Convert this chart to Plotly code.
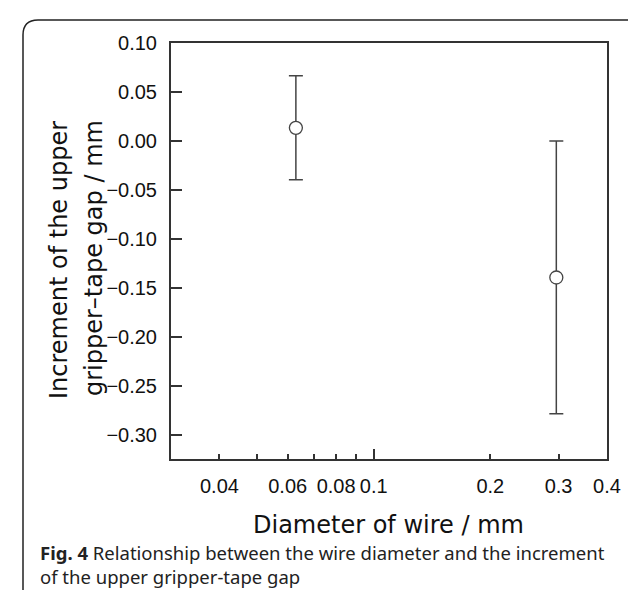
import math
import plotly.graph_objects as go

# ---- data ----
wire_diameter = [0.063, 0.296]          # mm
gap_increment = [0.0135, -0.139]        # mm
gap_error = [0.053, 0.139]              # mm (symmetric)

x_tick_vals = [0.04, 0.05, 0.06, 0.07, 0.08, 0.09, 0.1, 0.2, 0.3, 0.4]
x_tick_text = ["0.04", "", "0.06", "", "0.08", "", "0.1", "0.2", "0.3", "0.4"]
y_tick_vals = [0.10, 0.05, 0.00, -0.05, -0.10, -0.15, -0.20, -0.25, -0.30]

x_title = "Diameter of wire / mm"
y_title_lines = ["Increment of the upper", "gripper\u2013tape gap / mm"]
caption_bold = "Fig. 4"
caption_rest = " Relationship between the wire diameter and the increment<br>of the upper gripper-tape gap"

# ---- layout geometry (pixels) ----
W, H = 636, 590
L, R, T, B = 163, 599, 35, 451
pw, ph = R - L, B - T


def px(X):
    return (X - L) / pw


def py(Y):
    return (B - Y) / ph


AX = "#333333"
MK = "#444444"

fig = go.Figure()
fig.add_trace(go.Scatter(
    x=wire_diameter, y=gap_increment, mode="markers",
    marker=dict(symbol="circle", size=13, color="white",
                line=dict(color=MK, width=1.3)),
    error_y=dict(type="data", array=gap_error, visible=True,
                 color=MK, thickness=1.5, width=7),
    showlegend=False, hoverinfo="skip",
))
# invisible helper trace to carry the overlay axis (long tick at 0.1)
fig.add_trace(go.Scatter(
    x=wire_diameter, y=gap_increment, mode="markers", xaxis="x2",
    marker=dict(opacity=0), showlegend=False, hoverinfo="skip",
))

xr = [math.log10(0.03), math.log10(0.4)]
fig.update_layout(
    width=W, height=H,
    margin=dict(l=L, r=W - R, t=T, b=H - B, pad=0),
    paper_bgcolor="white", plot_bgcolor="white",
    xaxis=dict(
        type="log", range=xr, tickmode="array",
        tickvals=x_tick_vals, ticktext=x_tick_text,
        ticks="inside", ticklen=5, tickwidth=1.5, tickcolor=AX,
        showline=True, linecolor=AX, linewidth=2, mirror=True,
        showgrid=False, zeroline=False,
        tickfont=dict(family="Liberation Sans, Arial", size=20, color="#111"),
        ticklabelstandoff=8,
    ),
    xaxis2=dict(
        type="log", range=xr, overlaying="x", side="bottom",
        tickmode="array", tickvals=[0.1], ticktext=[""],
        ticks="inside", ticklen=10, tickwidth=1.5, tickcolor=AX,
        showline=False, showgrid=False, zeroline=False,
    ),
    yaxis=dict(
        range=[-0.324, 0.10], tickmode="array", tickvals=y_tick_vals,
        tickformat=".2f",
        ticks="inside", ticklen=11, tickwidth=1.5, tickcolor=AX,
        showline=True, linecolor=AX, linewidth=2, mirror=True,
        showgrid=False, zeroline=False,
        tickfont=dict(family="Liberation Sans, Arial", size=20, color="#111"),
        ticklabelstandoff=8,
    ),
)

title_font = dict(family="DejaVu Sans", size=24, color="#111")
fig.add_annotation(text=x_title, xref="paper", yref="paper",
                   x=px(380), y=py(517), xanchor="center", yanchor="middle",
                   showarrow=False, font=title_font)
for txt, X, Y in zip(y_title_lines, [51, 86], [393, 390]):
    fig.add_annotation(text=txt, xref="paper", yref="paper",
                       x=px(X), y=py(Y), xanchor="center", yanchor="bottom",
                       textangle=-90, showarrow=False, font=title_font)

fig.add_annotation(text="<b>" + caption_bold + "</b>" + caption_rest,
                   xref="paper", yref="paper", x=px(30), y=py(556),
                   xanchor="left", yanchor="middle", align="left",
                   showarrow=False,
                   font=dict(family="Noto Sans, Open Sans", size=18.5, color="#222"))

# rounded frame around the figure panel
x0, x1, y0, y1, r = 15, 635, 12, 620, 15
path = (f"M {px(x0)},{py(y1)} L {px(x0)},{py(y0 + r)} "
        f"Q {px(x0)},{py(y0)} {px(x0 + r)},{py(y0)} "
        f"L {px(x1 - r)},{py(y0)} Q {px(x1)},{py(y0)} {px(x1)},{py(y0 + r)} "
        f"L {px(x1)},{py(y1)}")
fig.add_shape(type="path", path=path, xref="paper", yref="paper",
              line=dict(color="#222", width=1.5), layer="above")

fig.write_html("out.html")
